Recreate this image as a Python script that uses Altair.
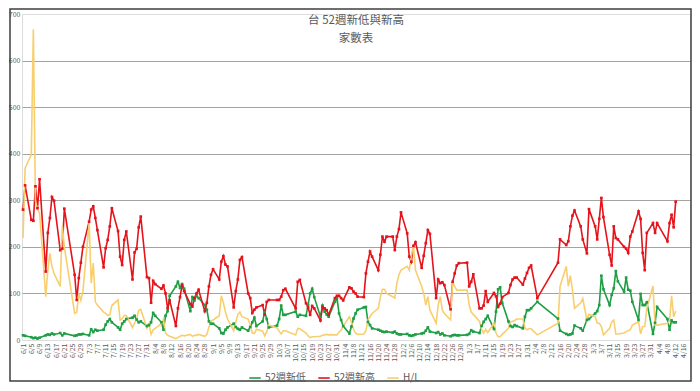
import altair as alt
import pandas as pd

# ---------------- data ----------------
holidays = ["2023-06-22", "2023-06-23", "2023-09-29", "2023-10-09", "2023-10-10",
            "2024-01-01", "2024-02-06", "2024-02-07", "2024-02-08", "2024-02-09",
            "2024-02-12", "2024-02-13", "2024-02-14", "2024-02-28",
            "2024-04-04", "2024-04-05"]

# 52週新高 (new highs)
high_jun = [280, 332, 258, 256, 330, 283, 345, 147, 230, 262, 307, 299, 193, 196, 282, 140, 86, 133, 166, 200]
high_jul = [254, 280, 287, 262, 236, 156, 197, 215, 244, 283, 234, 179, 161, 215, 233, 130, 188, 196, 242, 265, 135]
high_aug = [133, 80, 127, 120, 110, 117, 100, 68, 85, 30, 68, 92, 118, 105, 77, 72, 90, 100, 108, 62, 80, 115, 140]
high_sep = [152, 130, 168, 180, 162, 158, 70, 105, 130, 172, 178, 100, 90, 58, 65, 70, 75, 55, 82, 86]
high_oct = [86, 86, 93, 107, 110, 68, 125, 129, 79, 70, 54, 73, 68, 42, 71, 68, 64, 54, 90, 95]
high_nov = [95, 90, 85, 113, 111, 104, 100, 93, 92, 143, 168, 190, 179, 150, 183, 222, 211, 222, 222, 193, 222, 238]
high_dec = [274, 229, 179, 168, 202, 210, 155, 181, 208, 236, 228, 90, 130, 122, 124, 118, 66, 125, 143, 160, 165]
high_jan = [166, 115, 125, 141, 68, 68, 74, 105, 82, 101, 94, 71, 78, 92, 101, 118, 130, 134, 134, 119, 132, 144]
high_feb = [155, 160, 90, 166, 216, 204, 212, 244, 267, 278, 244, 216, 186]
high_mar = [281, 244, 216, 260, 305, 264, 183, 160, 244, 219, 216, 200, 196, 187, 222, 233, 276, 260, 187, 150, 230]
high_apr = [251, 230, 251, 212, 251, 269, 242, 297]

# 52週新低 (new lows)
low_jun = [10, 9, 6, 4, 5, 3, 5, 10, 12, 11, 14, 12, 15, 10, 14, 9, 10, 12, 12, 13]
low_jul = [10, 23, 17, 22, 20, 22, 33, 40, 45, 38, 27, 22, 35, 40, 45, 48, 52, 44, 38, 40, 30]
low_aug = [32, 38, 58, 52, 38, 22, 52, 62, 95, 115, 125, 112, 120, 110, 62, 92, 85, 95, 90, 75, 65, 40, 35]
low_sep = [35, 25, 15, 14, 22, 27, 35, 28, 24, 22, 27, 20, 28, 38, 48, 30, 40, 60, 45, 27]
low_oct = [31, 45, 74, 54, 54, 61, 50, 54, 52, 75, 100, 110, 92, 50, 74, 61, 55, 50, 82, 90]
low_nov = [57, 43, 30, 14, 29, 46, 57, 65, 70, 71, 39, 32, 25, 22, 20, 18, 17, 18, 16, 18, 14, 12]
low_dec = [12, 13, 10, 9, 10, 12, 14, 15, 20, 27, 18, 15, 17, 12, 14, 10, 8, 10, 11, 10, 10]
low_jan = [11, 13, 21, 18, 15, 30, 39, 45, 52, 24, 61, 109, 113, 80, 40, 30, 28, 32, 30, 25, 50, 64]
low_feb = [64, 68, 82, 46, 20, 13, 11, 12, 14, 31, 25, 20, 43]
low_mar = [45, 57, 62, 75, 138, 109, 75, 97, 111, 148, 126, 104, 134, 108, 106, 82, 43, 99, 75, 75, 81]
low_apr = [13, 37, 71, 45, 22, 42, 38, 38]

# H/L
hl_jun = [219, 369, 398, 667, 300, 280, 273, 93, 150, 186, 158, 143, 115, 245, 200, 57, 60, 100, 85, 105]
hl_jul = [251, 122, 165, 82, 75, 60, 57, 53, 54, 74, 86, 43, 46, 53, 52, 27, 36, 45, 64, 66, 25]
hl_aug = [35, 12, 22, 25, 35, 45, 15, 10, 8, 3, 5, 8, 10, 9, 12, 8, 10, 10, 12, 8, 12, 28, 40]
hl_sep = [43, 52, 95, 80, 60, 45, 20, 38, 55, 60, 50, 45, 32, 15, 14, 23, 19, 9, 18, 32]
hl_oct = [26, 19, 13, 20, 20, 11, 25, 24, 15, 9, 5, 7, 7, 8, 10, 11, 12, 11, 11, 11]
hl_nov = [17, 21, 30, 50, 38, 23, 15, 12, 13, 20, 43, 50, 57, 68, 92, 109, 109, 100, 93, 90, 122, 140]
hl_dec = [150, 158, 150, 180, 204, 150, 115, 100, 75, 93, 64, 36, 75, 93, 64, 57, 43, 125, 115, 107, 107]
hl_jan = [107, 75, 60, 55, 40, 23, 15, 23, 16, 36, 15, 7, 7, 12, 25, 39, 40, 42, 45, 45, 26, 22]
hl_feb = [24, 24, 11, 36, 115, 158, 115, 138, 107, 68, 80, 89, 43]
hl_mar = [55, 50, 36, 36, 29, 11, 25, 39, 43, 13, 13, 15, 18, 20, 22, 32, 39, 13, 29, 29, 68]
hl_apr = [116, 32, 32, 36, 40, 95, 50, 62]

new_high = (high_jun + high_jul + high_aug + high_sep + high_oct + high_nov +
            high_dec + high_jan + high_feb + high_mar + high_apr)
new_low = (low_jun + low_jul + low_aug + low_sep + low_oct + low_nov +
           low_dec + low_jan + low_feb + low_mar + low_apr)
hl = (hl_jun + hl_jul + hl_aug + hl_sep + hl_oct + hl_nov +
      hl_dec + hl_jan + hl_feb + hl_mar + hl_apr)

trade_dates = [d for d in pd.bdate_range("2023-06-01", "2024-04-12")
               if d.strftime("%Y-%m-%d") not in holidays]
assert len(trade_dates) == len(new_high) == len(new_low) == len(hl), (
    len(trade_dates), len(new_high), len(new_low), len(hl))

series_names = ["52週新低", "52週新高", "H/L"]
series_colors = ["#1f9e46", "#e5131b", "#f8cf6e"]
y_ticks = [0, 100, 200, 300, 400, 500, 600, 700]
tick_dates = pd.date_range("2023-06-01", "2024-04-16", freq="4D")

rows = []
for name, vals in zip(series_names, [new_low, new_high, hl]):
    for d, v in zip(trade_dates, vals):
        rows.append({"date": d, "series": name, "value": v})
df = pd.DataFrame(rows)

# ---------------- chart ----------------
FONT = "Noto Sans CJK TC"
TXT = "#595959"

x_enc = alt.X(
    "date:T",
    scale=alt.Scale(domain=[alt.DateTime(year=2023, month=5, date=31, hours=12),
                            alt.DateTime(year=2024, month=4, date=18, hours=22)]),
    axis=alt.Axis(values=[alt.DateTime(year=d.year, month=d.month, date=d.day) for d in tick_dates],
                  format="%-m/%-d", labelAngle=270, labelFontSize=7, labelColor=TXT,
                  labelFont=FONT, labelOverlap=False, labelPadding=3,
                  grid=False, ticks=False, domain=False, title=None),
)
y_enc = alt.Y(
    "value:Q",
    scale=alt.Scale(domain=[0, 700], nice=False),
    axis=alt.Axis(values=y_ticks, labelFontSize=7, labelColor=TXT, labelFont=FONT,
                  labelPadding=2, gridColor="#a3a3a3", gridWidth=1,
                  gridOpacity={"condition": {"test": "datum.value == 0 || datum.value == 700", "value": 0},
                               "value": 1},
                  ticks=False, domain=False, title=None),
)
color_enc = alt.Color(
    "series:N",
    scale=alt.Scale(domain=series_names, range=series_colors),
    sort=series_names,
    legend=alt.Legend(title=None, orient="none", legendX=226, legendY=357, direction="horizontal",
                      labelFontSize=10, labelColor=TXT, labelFont=FONT,
                      symbolType="stroke", symbolStrokeWidth=2, symbolSize=130,
                      columnPadding=8, labelOffset=3),
)

base = alt.Chart(df).encode(x=x_enc, y=y_enc, color=color_enc)

lines = base.mark_line(interpolate="linear").encode(
    strokeWidth=alt.StrokeWidth("series:N",
                                scale=alt.Scale(domain=series_names, range=[1.6, 1.6, 1.1]),
                                legend=None)
)
points = base.transform_filter(
    alt.FieldOneOfPredicate(field="series", oneOf=["52週新低", "52週新高"])
).mark_point(filled=True, shape="square", size=7, opacity=1)

frame = alt.Chart(pd.DataFrame({"k": [0]})).mark_rect(
    fill=None, stroke="#3f3f3f", strokeWidth=1.5
).encode(x=alt.value(-12), x2=alt.value(669), y=alt.value(-5), y2=alt.value(367))

chart = alt.layer(frame, lines, points).properties(
    width=668,
    height=326,
    padding=0,
    title=alt.TitleParams(text=["台 52週新低與新高", "家數表"], anchor="middle", frame="group",
                          offset=-36, fontSize=11.5, font=FONT, color=TXT,
                          fontWeight="normal", lineHeight=18),
).configure_view(stroke=None).configure(background="white")

chart.save("out.html", embed_options={"renderer": "svg", "actions": False})
